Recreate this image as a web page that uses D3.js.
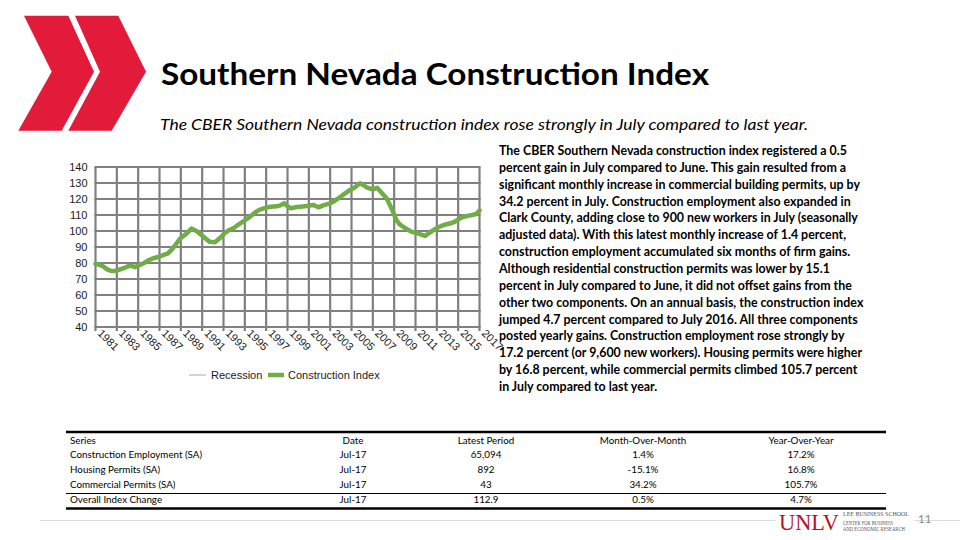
<!DOCTYPE html>
<html>
<head>
<meta charset="utf-8">
<script src="https://cdn.jsdelivr.net/npm/d3@7"></script>
<style>
  html, body { margin: 0; padding: 0; background: #fff; }
  svg { display: block; }
</style>
</head>
<body>
<svg id="chart" width="960" height="540"></svg>
<script>
// ---------------- DATA ----------------
const title = "Southern Nevada Construction Index";
const subtitle = "The CBER Southern Nevada construction index rose strongly in July compared to last year.";

// Construction index (decimal year, index value)
const indexYears = [1981.0,1981.3,1981.7,1982.1,1982.4,1982.8,1983.2,1983.6,1984.0,1984.3,1984.7,1985.1,1985.5,1985.9,1986.4,1986.8,1987.2,1987.8,1988.2,1988.5,1988.9,1989.3,1989.6,1990.0,1990.5,1991.1,1991.7,1992.2,1992.7,1993.1,1993.6,1994.0,1994.5,1995.0,1995.5,1996.0,1996.4,1997.0,1997.4,1998.0,1998.4,1998.7,1999.0,1999.3,1999.9,2000.4,2000.8,2001.4,2001.9,2002.4,2003.0,2003.4,2003.8,2004.3,2004.8,2005.3,2005.8,2006.1,2006.4,2007.0,2007.4,2007.8,2008.3,2008.8,2009.2,2009.5,2009.9,2010.6,2011.0,2011.4,2011.9,2012.4,2013.1,2013.5,2013.9,2014.3,2014.7,2015.1,2015.5,2016.0,2016.3,2016.7,2017.0];
const indexValues = [79.5,79.0,78.0,76.0,75.2,75.0,75.8,76.6,77.8,78.4,77.4,78.6,79.8,81.5,83.0,83.6,84.6,86.0,88.8,91.3,95.0,97.2,98.8,101.5,99.8,96.5,93.3,93.0,95.8,98.6,100.8,102.0,104.5,106.6,109.0,111.8,113.4,114.6,115.2,115.4,116.2,117.3,115.5,114.2,115.0,115.3,115.6,116.3,114.8,116.2,117.3,118.8,120.6,123.0,125.4,127.2,129.8,128.8,127.3,126.0,127.0,124.0,120.4,113.5,107.0,104.3,102.3,99.6,98.8,98.1,96.9,99.4,102.2,103.4,104.2,104.8,105.8,107.6,108.9,109.6,110.0,110.6,112.9];

const xTickYears = d3.range(1981, 2018, 2);
const yTicks = d3.range(40, 141, 10);
const legendItems = ["Recession", "Construction Index"];

const paragraphLines = [
  "The CBER Southern Nevada construction index registered a 0.5",
  "percent gain in July compared to June. This gain resulted from a",
  "significant monthly increase in commercial building permits, up by",
  "34.2 percent in July. Construction employment also expanded in",
  "Clark County, adding close to 900 new workers in July (seasonally",
  "adjusted data). With this latest monthly increase of 1.4 percent,",
  "construction employment accumulated six months of firm gains.",
  "Although residential construction permits was lower by 15.1",
  "percent in July compared to June, it did not offset gains from the",
  "other two components. On an annual basis, the construction index",
  "jumped 4.7 percent compared to July 2016. All three components",
  "posted yearly gains. Construction employment rose strongly by",
  "17.2 percent (or 9,600 new workers). Housing permits were higher",
  "by 16.8 percent, while commercial permits climbed 105.7 percent",
  "in July compared to last year."
];

const tableHeader = ["Series", "Date", "Latest Period", "Month-Over-Month", "Year-Over-Year"];
const tableSeries = ["Construction Employment (SA)", "Housing Permits (SA)", "Commercial Permits (SA)", "Overall Index Change"];
const tableDates = ["Jul-17", "Jul-17", "Jul-17", "Jul-17"];
const tableLatest = ["65,094", "892", "43", "112.9"];
const tableMoM = ["1.4%", "-15.1%", "34.2%", "0.5%"];
const tableYoY = ["17.2%", "16.8%", "105.7%", "4.7%"];

// ---------------- DRAW ----------------
const svg = d3.select("#chart");
const green = "#70ad47";
const red = "#e31b3b";

// Chevron logo
const chevA = [[24,15.7],[68.3,15.7],[94,71.7],[61.7,130.7],[18.3,130.7],[51.7,71.7]];
const chevB = [[75,15.7],[118.3,15.7],[146,71.7],[111.7,130.7],[68.3,130.7],[100,71.7]];
[chevA, chevB].forEach(p => {
  svg.append("path").attr("d", d3.line()(p) + "Z").attr("fill", red);
});

// Title & subtitle
svg.append("text").attr("x", 161).attr("y", 85)
  .attr("font-family", "Lato, sans-serif").attr("font-weight", 700)
  .attr("font-size", 30).attr("fill", "#000")
  .attr("textLength", 548).attr("lengthAdjust", "spacingAndGlyphs")
  .text(title);
svg.append("text").attr("x", 160).attr("y", 130)
  .attr("font-family", "Lato, sans-serif").attr("font-style", "italic")
  .attr("font-size", 15.5).attr("fill", "#000")
  .attr("textLength", 648).attr("lengthAdjust", "spacingAndGlyphs")
  .text(subtitle);

// Chart
const x = d3.scaleLinear().domain([1981, 2017]).range([95.5, 479.5]);
const y = d3.scaleLinear().domain([40, 140]).range([327, 167]);
const gridColor = "#808080";

const g = svg.append("g");
g.selectAll("line.h").data(yTicks).join("line")
  .attr("x1", x(1981) - 1).attr("x2", x(2017) + 1)
  .attr("y1", d => y(d)).attr("y2", d => y(d))
  .attr("stroke", gridColor).attr("stroke-width", 2.2);
g.selectAll("line.v").data(xTickYears).join("line")
  .attr("x1", d => x(d)).attr("x2", d => x(d))
  .attr("y1", y(140)).attr("y2", y(40) + 4)
  .attr("stroke", gridColor).attr("stroke-width", 2.2);

// Y axis labels
const yAxis = d3.axisLeft(y).tickValues(yTicks).tickSize(0).tickPadding(8);
const ya = svg.append("g").attr("transform", `translate(${x(1981)},0)`).call(yAxis);
ya.select(".domain").remove();
ya.selectAll("text").attr("font-family", "Liberation Sans, Arial, sans-serif")
  .attr("font-size", 11).attr("fill", "#1a1a1a");

// X axis labels (rotated)
const xAxis = d3.axisBottom(x).tickValues(xTickYears).tickFormat(d3.format("d")).tickSize(0);
const xa = svg.append("g").attr("transform", `translate(0,${y(40)})`).call(xAxis);
xa.select(".domain").remove();
xa.selectAll("text")
  .attr("font-family", "Liberation Sans, Arial, sans-serif")
  .attr("font-size", 11).attr("fill", "#1a1a1a")
  .attr("text-anchor", "start")
  .attr("dy", 0).attr("y", 0)
  .attr("transform", "translate(1,7) rotate(45)");

// Index line
const pts = indexYears.map((yr, i) => [yr, indexValues[i]]);
svg.append("path").datum(pts)
  .attr("d", d3.line().x(d => x(d[0])).y(d => y(d[1])))
  .attr("fill", "none").attr("stroke", green).attr("stroke-width", 4.5)
  .attr("stroke-linejoin", "round").attr("stroke-linecap", "round");

// Legend
const lg = svg.append("g");
lg.append("line").attr("x1", 189).attr("x2", 206).attr("y1", 375).attr("y2", 375)
  .attr("stroke", "#a6a6a6").attr("stroke-width", 1);
lg.append("text").attr("x", 211).attr("y", 379).text(legendItems[0]);
lg.append("line").attr("x1", 268).attr("x2", 284).attr("y1", 375).attr("y2", 375)
  .attr("stroke", green).attr("stroke-width", 4.5);
lg.append("text").attr("x", 288).attr("y", 379).text(legendItems[1]);
lg.selectAll("text").attr("font-family", "Liberation Sans, Arial, sans-serif")
  .attr("font-size", 11).attr("fill", "#1a1a1a");

// Paragraph
const para = svg.append("g");
paragraphLines.forEach((line, i) => {
  const t = para.append("text").attr("x", 499).attr("y", 155 + i * 16.86)
    .attr("font-family", "Lato, sans-serif").attr("font-weight", 700)
    .attr("font-size", 12.4).attr("fill", "#000").text(line);
  const w = t.node().getComputedTextLength();
  if (w > 380) t.attr("textLength", 380).attr("lengthAdjust", "spacingAndGlyphs");
});

// Table
const tbl = svg.append("g").attr("font-family", "Lato, sans-serif").attr("font-size", 9.8).attr("fill", "#000");
const colX = [70, 353, 486, 643, 801];
const rowY = [458, 473, 488, 503];
tbl.append("line").attr("x1", 66).attr("x2", 886).attr("y1", 432).attr("y2", 432).attr("stroke", "#000").attr("stroke-width", 2.5);
tbl.append("line").attr("x1", 66).attr("x2", 886).attr("y1", 493.5).attr("y2", 493.5).attr("stroke", "#000").attr("stroke-width", 1.2);
tbl.append("line").attr("x1", 66).attr("x2", 886).attr("y1", 508.5).attr("y2", 508.5).attr("stroke", "#000").attr("stroke-width", 2.5);
tableHeader.forEach((h, j) => {
  tbl.append("text").attr("x", colX[j]).attr("y", 443.5)
    .attr("text-anchor", j === 0 ? "start" : "middle").text(h);
});
const cols = [tableSeries, tableDates, tableLatest, tableMoM, tableYoY];
cols.forEach((col, j) => {
  col.forEach((v, i) => {
    tbl.append("text").attr("x", colX[j]).attr("y", rowY[i])
      .attr("text-anchor", j === 0 ? "start" : "middle").text(v);
  });
});

// Footer separator, logo and page number
svg.append("line").attr("x1", 40).attr("x2", 960).attr("y1", 520.5).attr("y2", 520.5)
  .attr("stroke", "#dcdcdc").attr("stroke-width", 1);
svg.append("rect").attr("x", 776).attr("y", 510).attr("width", 138).attr("height", 30).attr("fill", "#fff");
svg.append("text").attr("x", 779).attr("y", 530)
  .attr("font-family", "Liberation Serif, serif").attr("font-size", 23)
  .attr("fill", "#b5121b").attr("textLength", 60).attr("lengthAdjust", "spacingAndGlyphs").text("UNLV");
const smallLogo = [["LEE BUSINESS SCHOOL", 516, 7, 66], ["CENTER FOR BUSINESS", 525, 5.4, 50], ["AND ECONOMIC RESEARCH", 531, 5.4, 62]];
smallLogo.forEach(([t, yy, fs, w]) => {
  svg.append("text").attr("x", 843).attr("y", yy)
    .attr("font-family", "Liberation Serif, serif").attr("font-size", fs)
    .attr("fill", "#555").attr("textLength", w).attr("lengthAdjust", "spacingAndGlyphs").text(t);
});
svg.append("text").attr("x", 918).attr("y", 523)
  .attr("font-family", "Lato, sans-serif").attr("font-size", 11.5).attr("fill", "#888").text("11");
</script>
</body>
</html>
